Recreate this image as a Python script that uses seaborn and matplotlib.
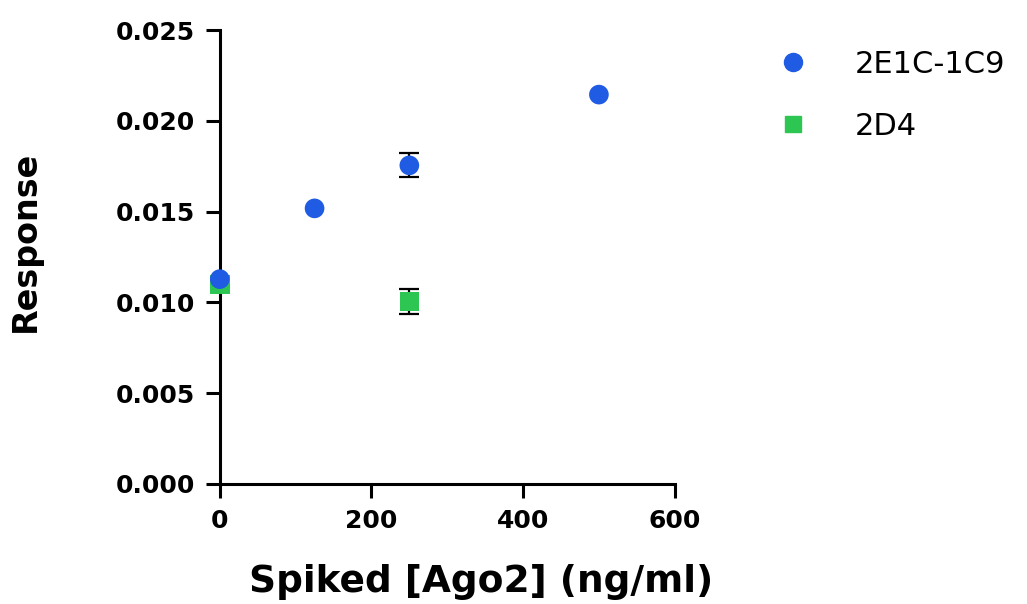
import matplotlib
matplotlib.use("Agg")
import matplotlib.pyplot as plt
import seaborn as sns
import pandas as pd
from matplotlib.lines import Line2D

# Data
series_names = ["2E1C-1C9", "2D4"]
x_2e1c = [0, 125, 250, 500]
y_2e1c = [0.01128, 0.01518, 0.01755, 0.02145]
err_2e1c = [0.0, 0.0, 0.00066, 0.0]
x_2d4 = [0, 250]
y_2d4 = [0.01098, 0.01005]
err_2d4 = [0.0, 0.0007]
x_ticks = [0, 200, 400, 600]
y_ticks = [0.000, 0.005, 0.010, 0.015, 0.020, 0.025]

colors = {"2E1C-1C9": "#1F5BE3", "2D4": "#2DC653"}
markers = {"2E1C-1C9": "o", "2D4": "s"}

# 2D4 rows first so the blue circles are drawn on top
df = pd.DataFrame({
    "x": x_2d4 + x_2e1c,
    "y": y_2d4 + y_2e1c,
    "err": err_2d4 + err_2e1c,
    "series": [series_names[1]] * len(x_2d4) + [series_names[0]] * len(x_2e1c),
})

sns.set_theme(style="ticks")
plt.rcParams["font.family"] = ["DejaVu Sans"]

fig = plt.figure(figsize=(10.27, 6.04), dpi=100)
ax = fig.add_axes([0.214, 0.199, 0.443, 0.751])

eb = df[df["err"] > 0]
ax.errorbar(eb["x"], eb["y"], yerr=eb["err"], fmt="none", ecolor="black",
            elinewidth=1.6, capsize=7, capthick=1.6, zorder=2)

sns.scatterplot(data=df, x="x", y="y", hue="series", style="series",
                hue_order=series_names, style_order=series_names,
                palette=colors, markers=markers, s=200, edgecolor="none",
                ax=ax, zorder=3, clip_on=False, legend=False)

ax.set_xlim(0, 600)
ax.set_ylim(0, 0.025)
ax.tick_params(axis="both", width=2.2, length=10, color="black",
               labelsize=18, labelcolor="black", pad=8)
ax.set_xticks(x_ticks)
ax.set_yticks(y_ticks)
ax.set_xticklabels([str(v) for v in x_ticks], fontsize=18, fontweight="bold")
ax.set_yticklabels([f"{v:.3f}" for v in y_ticks], fontsize=18, fontweight="bold")
for sp in ["left", "bottom"]:
    ax.spines[sp].set_linewidth(2.2)
    ax.spines[sp].set_color("black")
sns.despine(ax=ax)

ax.set_xlabel("Spiked [Ago2] (ng/ml)", fontsize=27, fontweight="bold", color="black")
ax.set_ylabel("Response", fontsize=24, fontweight="bold", color="black")
ax.xaxis.set_label_coords(0.574, -0.216)
ax.xaxis.label.set_va("center")
ax.yaxis.set_label_coords(-0.428, 0.535)
ax.yaxis.label.set_va("center")

handles = [Line2D([], [], linestyle="none", marker=markers[n], color=colors[n],
                  markersize=13 if n == "2E1C-1C9" else 12) for n in series_names]
fig.legend(handles, series_names, loc="upper left", bbox_to_anchor=(0.7425, 0.918),
           frameon=False, fontsize=22, handletextpad=1.03, labelspacing=1.1,
           borderpad=0, borderaxespad=0, labelcolor="black")

fig.savefig("out.png", dpi=100)
